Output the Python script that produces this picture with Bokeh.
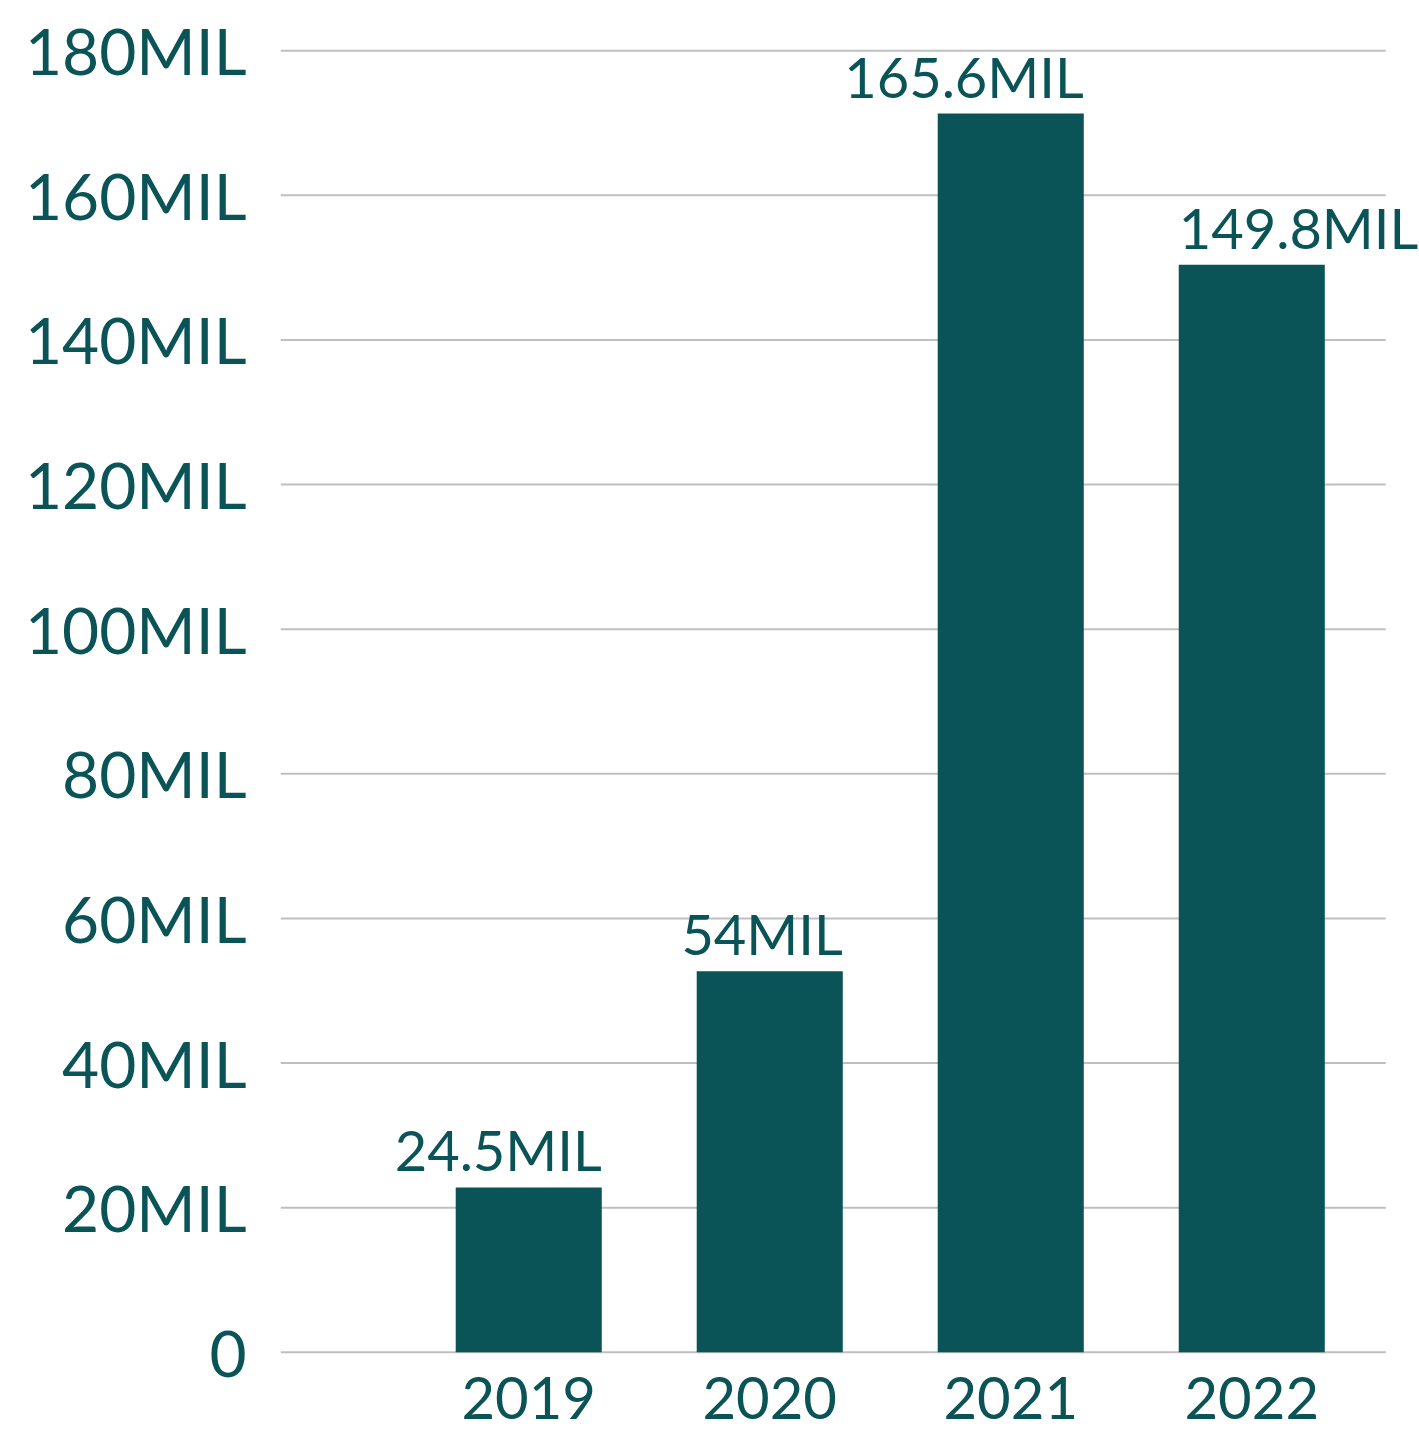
from bokeh.plotting import figure
from bokeh.models import Range1d, FixedTicker, ColumnDataSource, LabelSet
from bokeh.core.properties import value, field
from bokeh.embed import file_html
from bokeh.resources import INLINE

years = ["2019", "2020", "2021", "2022"]
bar_heights = [22.8, 52.7, 171.3, 150.4]          # bar heights as drawn (millions)
bar_labels = ["24.5MIL", "54MIL", "165.6MIL", "149.8MIL"]
y_ticks = [0, 20, 40, 60, 80, 100, 120, 140, 160, 180]
y_tick_labels = ["0", "20MIL", "40MIL", "60MIL", "80MIL", "100MIL",
                 "120MIL", "140MIL", "160MIL", "180MIL"]

TEAL = "#0a5356"
GRID = "#bfbfbf"
FONT = "Lato"
BAR_W = 0.606
X_START, GRID_END, X_END = -1.03, 3.556, 3.696   # plot extents in category units

xs = list(range(len(years)))
# last label extends to the right of its bar, the others end at the bar's right edge
label_align = ["right", "right", "right", "left"]
label_x = [x + BAR_W / 2 if a == "right" else x - BAR_W / 2 for x, a in zip(xs, label_align)]

src = ColumnDataSource(dict(x=xs, top=bar_heights, lx=label_x, txt=bar_labels, align=label_align))
grid_src = ColumnDataSource(dict(y=y_ticks))

p = figure(width=1419, height=1429, output_backend="svg", toolbar_location=None,
           x_range=Range1d(X_START, X_END), y_range=Range1d(-0.3, 180.3),
           min_border_left=280, min_border_right=0, min_border_top=48, min_border_bottom=75)
p.outline_line_color = None
p.background_fill_color = "white"

# horizontal gridlines at the y ticks, ending before the right edge of the page
p.segment(x0=X_START, x1=GRID_END, y0="y", y1="y", source=grid_src,
          line_color=GRID, line_width=2)

p.vbar(x="x", top="top", width=BAR_W, bottom=0, source=src, fill_color=TEAL, line_color=None)
labels = LabelSet(x="lx", y="top", text="txt", source=src, text_align=field("align"),
                  text_baseline="alphabetic", y_offset=16, text_color=TEAL,
                  text_font=value(FONT), text_font_size="56px")
p.add_layout(labels)

p.xgrid.grid_line_color = None
p.ygrid.grid_line_color = None

p.yaxis.ticker = FixedTicker(ticks=y_ticks)
p.yaxis.major_label_overrides = {t: l for t, l in zip(y_ticks, y_tick_labels)}
p.yaxis.axis_line_color = None
p.yaxis.major_tick_line_color = None
p.yaxis.minor_tick_line_color = None
p.yaxis.major_label_standoff = 28
p.yaxis.major_label_text_font = FONT
p.yaxis.major_label_text_font_size = "64px"
p.yaxis.major_label_text_color = TEAL

p.xaxis.ticker = FixedTicker(ticks=xs)
p.xaxis.major_label_overrides = {x: y for x, y in zip(xs, years)}
p.xaxis.axis_line_color = None
p.xaxis.major_tick_line_color = None
p.xaxis.minor_tick_line_color = None
p.xaxis.major_label_standoff = 16
p.xaxis.major_label_text_font = FONT
p.xaxis.major_label_text_font_size = "58px"
p.xaxis.major_label_text_color = TEAL

open("out.html", "w").write(file_html(p, INLINE))
